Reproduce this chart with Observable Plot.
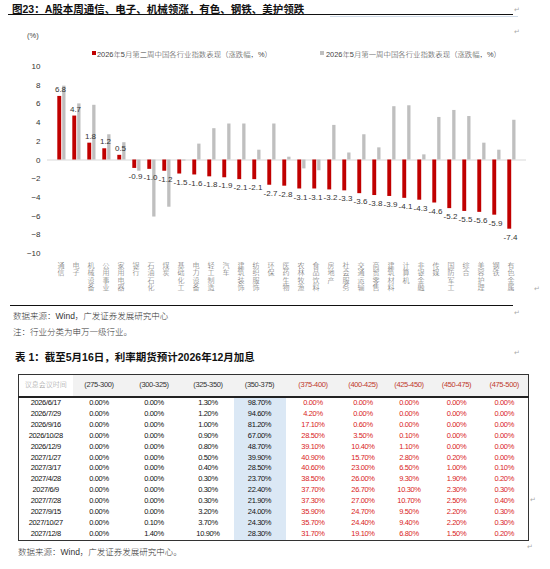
<!DOCTYPE html>
<html><head><meta charset="utf-8">
<script src="https://cdn.jsdelivr.net/npm/d3@7"></script>
<script src="https://cdn.jsdelivr.net/npm/@observablehq/plot@0.6"></script>
<style>
html,body{margin:0;padding:0;background:#fff;width:550px;height:569px;overflow:hidden;}
body{position:relative;font-family:"Liberation Sans","Noto Sans CJK SC",sans-serif;color:#222;}
.abs{position:absolute;white-space:nowrap;}
.lt{font-weight:300;}
.pm{position:absolute;font-size:7px;color:#aaa;}
#tbl{position:absolute;left:18px;top:374px;width:510px;border-collapse:collapse;border:1.5px solid #333;table-layout:fixed;}
#tbl td,#tbl th{padding:0;text-align:center;font-size:7.5px;letter-spacing:-0.35px;height:10.9px;line-height:10.9px;font-weight:normal;}
#tbl th{height:21px;background:#f2f2f2;border-bottom:2px solid #222;color:#333;font-size:7.5px;}
</style></head>
<body>
<div class="abs" style="left:12px;top:1px;font-size:10.5px;font-weight:bold;color:#111;">图23：A股本周通信、电子、机械领涨，有色、钢铁、美护领跌</div>
<div class="abs" style="left:8px;top:14px;width:505px;height:1px;background:#111;"></div>
<div class="abs" style="left:330px;top:16px;width:188px;height:1px;background:#cfdbe8;"></div>
<div class="abs lt" style="left:27px;top:31px;font-size:7.5px;color:#444;">(%)</div>
<div id="legend"></div>
<div id="chart" class="abs" style="left:0;top:58px;"></div>
<div class="abs" style="left:10px;top:305px;width:503px;height:1px;background:#111;"></div>
<div class="abs lt" style="left:13px;top:309px;font-size:8.5px;color:#333;">数据来源：Wind，广发证券发展研究中心</div>
<div class="abs lt" style="left:13px;top:325px;font-size:8.5px;color:#333;">注：行业分类为申万一级行业。</div>
<div class="abs" style="left:15px;top:349px;font-size:10.5px;font-weight:bold;color:#111;">表 1：截至5月16日，利率期货预计2026年12月加息</div>
<table id="tbl"></table>
<div class="abs lt" style="left:18px;top:545px;font-size:8.5px;color:#333;">数据来源：Wind，广发证券发展研究中心。</div>
<div class="pm" style="left:514px;top:6px;">↵</div>
<div class="pm" style="left:514px;top:28px;">↵</div>
<div class="pm" style="left:534px;top:285px;">↵</div>
<div class="pm" style="left:514px;top:309px;">↵</div>
<div class="pm" style="left:514px;top:349px;">↵</div>
<div class="pm" style="left:530px;top:496px;">↵</div>
<div class="pm" style="left:527px;top:543px;">↵</div>
<script>
// ---------- Chart data ----------
const industries = ["通信","电子","机械设备","公用事业","家用电器","银行","石油石化","煤炭","基础化工","电力设备","轻工制造","汽车","建筑装饰","纺织服饰","环保","医药生物","农林牧渔","食品饮料","房地产","社会服务","交通运输","商贸零售","建筑材料","计算机","非银金融","传媒","国防军工","综合","美容护理","钢铁","有色金属"];
const week2 = [6.8,4.7,1.8,1.2,0.5,-0.9,-1.0,-1.2,-1.5,-1.6,-1.8,-1.9,-2.1,-2.1,-2.7,-2.8,-3.1,-3.1,-3.2,-3.3,-3.6,-3.8,-3.9,-4.1,-4.3,-4.6,-5.2,-5.5,-5.6,-5.9,-7.4];
const week1 = [7.9,6.0,5.85,2.7,1.85,-1.2,-6.1,-5.05,-0.1,1.7,3.35,3.85,3.85,1.05,3.85,0.3,-0.95,-1.15,3.7,0.75,2.7,1.3,5.7,5.8,0.55,4.55,5.3,4.65,1.8,1.05,4.25];
const seriesNames = ["2026年5月第二周中国各行业指数表现（涨跌幅，%）","2026年5月第一周中国各行业指数表现（涨跌幅，%）"];
const seriesColors = ["#c00000","#bfbfbf"];
const yTicks = [-10,-8,-6,-4,-2,0,2,4,6,8,10];

// ---------- Table data ----------
const rateBuckets = ["(275-300)","(300-325)","(325-350)","(350-375)","(375-400)","(400-425)","(425-450)","(450-475)","(475-500)"];
const meetingDates = ["2026/6/17","2026/7/29","2026/9/16","2026/10/28","2026/12/9","2027/1/27","2027/3/17","2027/4/28","2027/6/9","2027/7/28","2027/9/15","2027/10/27","2027/12/8"];
const probs = [
 [0.00,0.00,1.30,98.70,0.00,0.00,0.00,0.00,0.00],
 [0.00,0.00,1.20,94.60,4.20,0.00,0.00,0.00,0.00],
 [0.00,0.00,1.00,81.20,17.10,0.60,0.00,0.00,0.00],
 [0.00,0.00,0.90,67.00,28.50,3.50,0.10,0.00,0.00],
 [0.00,0.00,0.80,48.70,39.10,10.40,1.10,0.00,0.00],
 [0.00,0.00,0.50,39.90,40.90,15.70,2.80,0.20,0.00],
 [0.00,0.00,0.40,28.50,40.60,23.00,6.50,1.00,0.10],
 [0.00,0.00,0.30,23.70,38.50,26.00,9.30,1.90,0.20],
 [0.00,0.00,0.30,22.40,37.70,26.70,10.30,2.30,0.30],
 [0.00,0.00,0.30,21.90,37.30,27.00,10.70,2.50,0.40],
 [0.00,0.00,3.20,24.00,35.90,24.70,9.50,2.20,0.30],
 [0.00,0.10,3.70,24.30,35.70,24.40,9.40,2.20,0.30],
 [0.00,1.40,10.90,28.30,31.70,19.10,6.80,1.50,0.20]
];

// ---------- Legend ----------
const legend = document.getElementById("legend");
const legPos = [{x:92, tx:97},{x:320, tx:326}];
seriesNames.forEach((n,i)=>{
  const sq = document.createElement("div");
  sq.className="abs"; sq.style.cssText=`left:${legPos[i].x}px;top:51px;width:4px;height:4px;background:${seriesColors[i]};`;
  legend.appendChild(sq);
  const t = document.createElement("div");
  t.className="abs lt"; t.style.cssText=`left:${legPos[i].tx}px;top:48px;font-size:7.4px;color:#444;`;
  t.textContent=n; legend.appendChild(t);
});

// ---------- Chart ----------
const cur = industries.map((d,i)=>({ind:d, v:week2[i]}));
const prev = industries.map((d,i)=>({ind:d, v:week1[i]}));
const font = '"Liberation Sans","Noto Sans CJK SC",sans-serif';
const chart = Plot.plot({
  width:550, height:245,
  marginLeft:47, marginRight:24, marginTop:8, marginBottom:50,
  style:{fontFamily:font, fontSize:"8px", color:"#333", background:"transparent", overflow:"visible"},
  x:{domain:industries, padding:0, axis:null},
  y:{domain:[-10,10], axis:null},
  marks:[
    Plot.ruleY([0],{stroke:"#d9d9d9", strokeWidth:1}),
    Plot.barY(cur,{x:"ind", y:"v", fill:seriesColors[0], insetLeft:3.3, insetRight:7.8}),
    Plot.barY(prev,{x:"ind", y:"v", fill:seriesColors[1], insetLeft:8.2, insetRight:3.5}),
    Plot.text(cur.filter(d=>d.v>=0),{x:"ind", y:"v", text:d=>d.v.toFixed(1), dy:-7, dx:-1.5, fontSize:8, fill:"#333"}),
    Plot.text(cur.filter(d=>d.v<0),{x:"ind", y:"v", text:d=>d.v.toFixed(1), dy:8, dx:-1.5, fontSize:8, fill:"#333"}),
    Plot.axisY({ticks:yTicks, tickSize:0, tickPadding:7, fontSize:8, fill:"#333", label:null}),
    Plot.text(industries,{x:d=>d, text:d=>[...d].join("\n"), frameAnchor:"bottom", lineAnchor:"top", dy:9, dx:-1, fontSize:7, lineHeight:1.07, fill:"#666", fontWeight:300})
  ]
});
document.getElementById("chart").appendChild(chart);

// ---------- Table ----------
const tbl = document.getElementById("tbl");
const widths = [54,53,57,51,52,55,45,47,48,48];
const cg = document.createElement("colgroup");
widths.forEach(w=>{const c=document.createElement("col"); c.style.width=w+"px"; cg.appendChild(c);});
tbl.appendChild(cg);
const hr = document.createElement("tr");
["议息会议时间",...rateBuckets].forEach((h,j)=>{
  const th=document.createElement("th"); th.textContent=h;
  if(j===0){th.style.background="#fff"; th.style.color="#999"; th.style.fontSize="7px"; th.style.letterSpacing="0"; th.style.fontWeight="300";}
  else if(j>=5){th.style.color="#c0392b";}
  hr.appendChild(th);
});
tbl.appendChild(hr);
meetingDates.forEach((d,i)=>{
  const tr=document.createElement("tr");
  const td0=document.createElement("td"); td0.textContent=d; td0.style.color="#111"; tr.appendChild(td0);
  probs[i].forEach((p,j)=>{
    const td=document.createElement("td"); td.textContent=p.toFixed(2)+"%";
    td.style.color = j>=4 ? "#d9231d" : "#111";
    if(j===3) td.style.background="#dbe8f5";
    tr.appendChild(td);
  });
  tbl.appendChild(tr);
});
</script>
</body></html>
